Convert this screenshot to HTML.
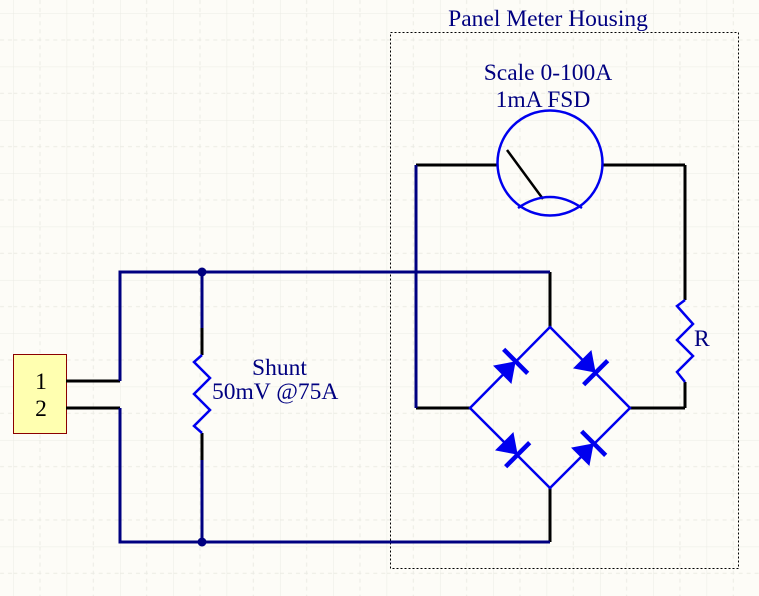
<!DOCTYPE html>
<html><head><style>
html,body{margin:0;padding:0;background:#fdfcf7;}
svg{display:block}
text{font-family:"Liberation Serif",serif;font-size:23.5px;fill:#000080}
</style></head><body>
<svg width="759" height="596" viewBox="0 0 759 596" xmlns="http://www.w3.org/2000/svg">
<defs>
<pattern id="g" x="13.33" y="13.33" width="53.33" height="53.33" patternUnits="userSpaceOnUse">
<line x1="0" y1="0" x2="0" y2="53.33" stroke="#ebebe4" stroke-width="1"/>
<line x1="0" y1="0" x2="53.33" y2="0" stroke="#ebebe4" stroke-width="1"/>
<line x1="26.67" y1="0" x2="26.67" y2="53.33" stroke="#ebebe4" stroke-width="1" stroke-dasharray="4,4"/>
<line x1="0" y1="26.67" x2="53.33" y2="26.67" stroke="#ebebe4" stroke-width="1" stroke-dasharray="4,4"/>
</pattern>
<g id="d">
<polygon points="-11,-13 -11,13 8,0" fill="#0000ee"/>
<line x1="8" y1="-17" x2="8" y2="17" stroke="#0000ee" stroke-width="4.5"/>
</g>
</defs>
<rect width="759" height="596" fill="url(#g)"/>
<rect x="390.5" y="32.5" width="348" height="536" fill="none" stroke="#000" stroke-width="1" stroke-dasharray="2,2"/>
<text x="548" y="26" text-anchor="middle">Panel Meter Housing</text>
<text x="548" y="80" text-anchor="middle">Scale 0-100A</text>
<text x="543" y="107" text-anchor="middle">1mA FSD</text>
<rect x="13.5" y="354.5" width="53" height="79" fill="#ffffb0" stroke="#8b0000" stroke-width="1"/>
<text x="41" y="389" text-anchor="middle" style="fill:#000">1</text>
<text x="41" y="416" text-anchor="middle" style="fill:#000">2</text>
<g stroke="#000" stroke-width="3" fill="none">
<line x1="66" y1="381" x2="120" y2="381"/>
<line x1="66" y1="408" x2="120" y2="408"/>
<line x1="202" y1="328" x2="202" y2="355"/>
<line x1="202" y1="433" x2="202" y2="460"/>
<line x1="550" y1="272" x2="550" y2="327"/>
<line x1="550" y1="488" x2="550" y2="542"/>
<line x1="416" y1="165" x2="497" y2="165"/>
<line x1="603" y1="165" x2="685" y2="165"/>
<line x1="685" y1="165" x2="685" y2="300"/>
<line x1="685" y1="382" x2="685" y2="408"/>
<line x1="630" y1="408" x2="685" y2="408"/>
<line x1="416" y1="408" x2="470" y2="408"/>
<line x1="507" y1="150" x2="543" y2="199" stroke-width="2.5"/>
</g>
<g stroke="#000080" stroke-width="3" fill="none">
<polyline points="120,381 120,272 550,272"/>
<polyline points="120,408 120,542 550,542"/>
<line x1="202" y1="272" x2="202" y2="328"/>
<line x1="202" y1="460" x2="202" y2="542"/>
<line x1="416" y1="165" x2="416" y2="408"/>
</g>
<circle cx="202" cy="272" r="4.5" fill="#000080"/>
<circle cx="202" cy="542" r="4.5" fill="#000080"/>
<g stroke="#0000ee" stroke-width="2.5" fill="none">
<polyline points="202,355 194,362 210,378 194,394 210,410 194,426 202,433"/>
<polyline points="685,300 677,306 693,324 677,340 693,356 677,372 685,382"/>
<polygon points="550,327 630,408 550,488 470,408"/>
<circle cx="550" cy="163" r="52.5"/>
<path d="M518,208 Q550,186 582,208"/>
</g>
<text x="252" y="375">Shunt</text>
<text x="212" y="399">50mV @75A</text>
<text x="694" y="346">R</text>
<use href="#d" transform="translate(510,367) rotate(-45)"/>
<use href="#d" transform="translate(590,367) rotate(45)"/>
<use href="#d" transform="translate(512,449) rotate(45)"/>
<use href="#d" transform="translate(588,449) rotate(-45)"/>
</svg>
</body></html>
